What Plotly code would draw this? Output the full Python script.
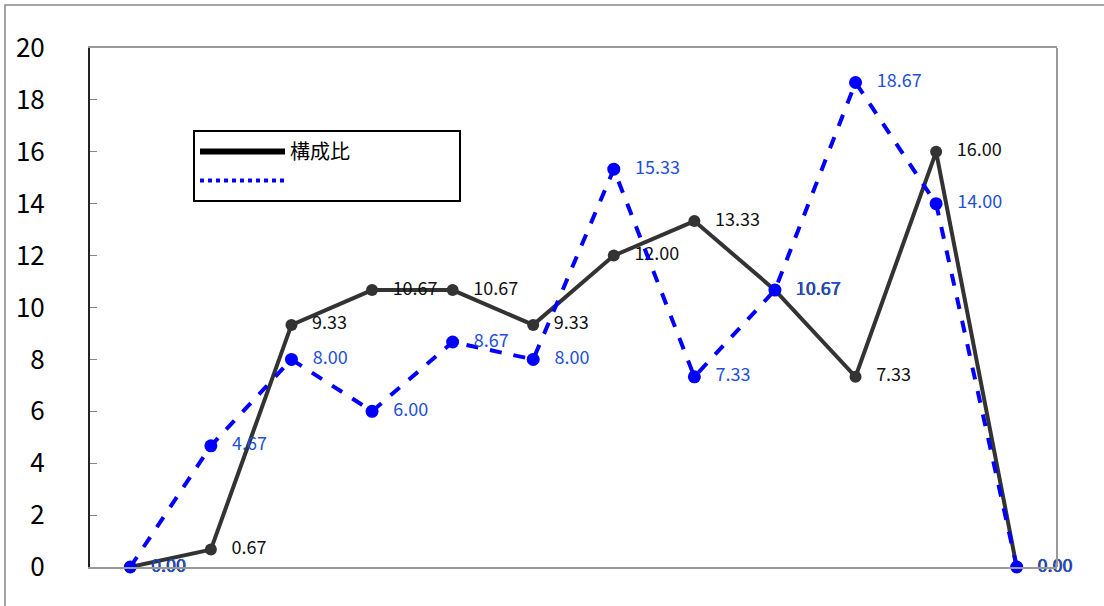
import plotly.graph_objects as go

categories = ["1", "2", "3", "4", "5", "6", "7", "8", "9", "10", "11", "12"]
series_black = [0.00, 0.67, 9.33, 10.67, 10.67, 9.33, 12.00, 13.33, 10.67, 7.33, 16.00, 0.00]
series_blue = [0.00, 4.67, 8.00, 6.00, 8.67, 8.00, 15.33, 7.33, 10.67, 18.67, 14.00, 0.00]
black_name = "構成比"
blue_name = " "
y_ticks = [0, 2, 4, 6, 8, 10, 12, 14, 16, 18, 20]

FONT = "Noto Sans CJK JP"
TICKFONT = "Liberation Sans Narrow, Noto Sans CJK JP"
NB = "\u00a0\u00a0\u00a0"

fig = go.Figure()
fig.add_trace(go.Scatter(
    x=categories, y=series_black, mode="lines+markers+text",
    name=black_name, showlegend=False,
    line=dict(color="#333333", width=4),
    marker=dict(color="#333333", size=12),
    text=[NB + f"{v:.2f}" for v in series_black],
    textposition="middle right",
    textfont=dict(family=FONT, size=18, color="#111111"),
    cliponaxis=False,
))
fig.add_trace(go.Scatter(
    x=categories, y=series_blue, mode="lines+markers+text",
    name=blue_name, showlegend=False,
    line=dict(color="#0000FF", width=4, dash="dash"),
    marker=dict(color="#0000FF", size=13),
    text=[NB + f"{v:.2f}" for v in series_blue],
    textposition="middle right",
    textfont=dict(family=FONT, size=18, color="#1E4FD8"),
    cliponaxis=False,
))
# legend entries
fig.add_trace(go.Scatter(
    x=[None], y=[None], mode="lines",
    name=black_name + "\u00a0" * 23,
    line=dict(color="black", width=6),
))
fig.add_trace(go.Scatter(
    x=[None], y=[None], mode="lines", name=blue_name,
    line=dict(color="#0000FF", width=4, dash="dot"),
))

fig.update_layout(
    width=1104, height=606,
    margin=dict(l=90, r=47, t=48, b=39),
    paper_bgcolor="white", plot_bgcolor="white",
    font=dict(family=FONT, color="black"),
    showlegend=True,
    legend=dict(
        x=(193 - 90) / 967, y=(567 - 130) / 519, xanchor="left", yanchor="top",
        bgcolor="white", bordercolor="black", borderwidth=2,
        font=dict(family=FONT, size=20, color="black"),
        itemwidth=85, tracegroupgap=0,
    ),
    xaxis=dict(
        type="category", range=[-0.5, 11.5],
        showgrid=False, zeroline=False, showticklabels=False, ticks="",
        showline=True, linecolor="#999999", linewidth=2, mirror=True,
    ),
    yaxis=dict(
        range=[0, 20], tickvals=y_ticks, showgrid=False, zeroline=False,
        showline=True, linecolor="#222222", linewidth=2,
        ticks="inside", ticklen=7, tickcolor="#888888",
        tickfont=dict(family=TICKFONT, size=26, color="black"), ticklabelstandoff=38,
    ),
    shapes=[
        dict(type="line", xref="paper", yref="paper", x0=1, x1=1, y0=0, y1=1,
             line=dict(color="#999999", width=2)),
        dict(type="rect", xref="paper", yref="paper",
             x0=(5 - 90) / 967, x1=1.2, y0=-0.2, y1=(567 - 5) / 519,
             line=dict(color="#888888", width=1.5), layer="below"),
    ],
)

fig.write_html("out.html", config={"displayModeBar": False},
               post_script="document.body.style.margin='0';")
